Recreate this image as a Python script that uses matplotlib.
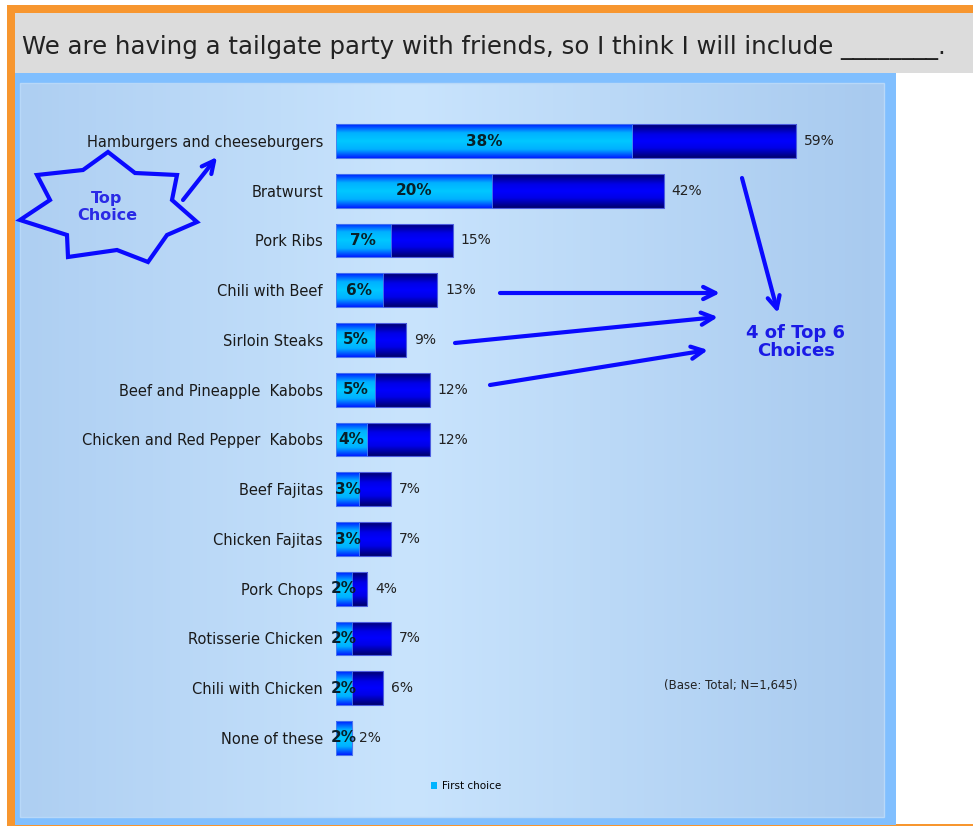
import matplotlib
matplotlib.use("Agg")
import matplotlib.pyplot as plt
import numpy as np
from matplotlib.colors import LinearSegmentedColormap
from matplotlib.patches import Rectangle, Polygon, Patch

# ---------------- data ----------------
categories = [
    "Hamburgers and cheeseburgers", "Bratwurst", "Pork Ribs", "Chili with Beef",
    "Sirloin Steaks", "Beef and Pineapple  Kabobs", "Chicken and Red Pepper  Kabobs",
    "Beef Fajitas", "Chicken Fajitas", "Pork Chops", "Rotisserie Chicken",
    "Chili with Chicken", "None of these",
]
first_choice = [38, 20, 7, 6, 5, 5, 4, 3, 3, 2, 2, 2, 2]
total_choice = [59, 42, 15, 13, 9, 12, 12, 7, 7, 4, 7, 6, 2]
title_text = "We are having a tailgate party with friends, so I think I will include ________."
legend_label = "First choice"
base_note = "(Base: Total; N=1,645)"

W, H = 973, 826
fig = plt.figure(figsize=(W / 100, H / 100), dpi=100)
fig.patch.set_facecolor("white")

# ---------------- background (pixel coordinates) ----------------
bg = fig.add_axes([0, 0, 1, 1])
bg.set_xlim(0, W)
bg.set_ylim(H, 0)
bg.axis("off")
bg.set_zorder(0)

def prect(ax, x0, y0, x1, y1, color, z=1):
    ax.add_patch(Rectangle((x0, y0), x1 - x0, y1 - y0, facecolor=color,
                           edgecolor="none", zorder=z))

prect(bg, 7, 5, W, H, "#f7962f", 1)
prect(bg, 15, 13, W, 73, "#dcdcdc", 2)
prect(bg, 896, 73, W, 824, "white", 2)
prect(bg, 15, 73, 896, 825, "#80bfff", 2)

panel_cmap = LinearSegmentedColormap.from_list(
    "panel", [(0, "#aecff2"), (0.45, "#c9e4fd"), (1, "#a8caef")])
grad = np.linspace(0, 1, 256).reshape(1, -1)
bg.imshow(grad, extent=[20, 884, 817, 83], aspect="auto", cmap=panel_cmap,
          zorder=3, interpolation="bilinear")
bg.add_patch(Rectangle((20, 83), 864, 734, facecolor="none",
                       edgecolor="#b8d8f8", lw=1, zorder=4))
bg.text(22, 47, title_text, fontsize=17.6, color="#222222", va="center",
        ha="left", zorder=5)
bg.set_xlim(0, W)
bg.set_ylim(H, 0)

# ---------------- main bar axes ----------------
px_per_pct = 7.8
x_left_px, x_right_px = 336, 884
top_px, bot_px = 83, 817
first_center_px, step_px = 141, 49.75

ax = fig.add_axes([x_left_px / W, 1 - bot_px / H,
                   (x_right_px - x_left_px) / W, (bot_px - top_px) / H])
ax.set_zorder(1)
ax.patch.set_alpha(0)
y = np.arange(len(categories))

dark_cmap = LinearSegmentedColormap.from_list(
    "dark", [(0, "#000070"), (0.3, "#0000e8"), (0.5, "#0000ff"),
             (0.7, "#0000e8"), (1, "#000070")])
light_cmap = LinearSegmentedColormap.from_list(
    "light", [(0, "#0020ff"), (0.25, "#00b0ff"), (0.5, "#00c8ff"),
              (0.75, "#00b0ff"), (1, "#0020ff")])
vgrad = np.linspace(0, 1, 64).reshape(-1, 1)

bh = 0.68
dark = ax.barh(y, total_choice, height=bh, facecolor="none",
               edgecolor="#4c5ce0", lw=0.8, zorder=2.1)
light = ax.barh(y, first_choice, height=bh, facecolor="none",
                edgecolor="#4c7cf0", lw=0.6, zorder=2.3)

for bars, cmap, z in ((dark, dark_cmap, 2.0), (light, light_cmap, 2.2)):
    for p in bars:
        x0, y0 = p.get_x(), p.get_y()
        w, h = p.get_width(), p.get_height()
        if w <= 0:
            continue
        im = ax.imshow(vgrad, extent=[x0, x0 + w, y0 + h, y0], aspect="auto",
                       cmap=cmap, zorder=z, interpolation="bilinear")
        im.set_clip_path(p)

for i, (f, t) in enumerate(zip(first_choice, total_choice)):
    ax.text(f / 2, i, f"{f}%", ha="center", va="center", fontsize=11,
            fontweight="bold", color="#08202a", zorder=4)
    ax.text(t + 1.0, i, f"{t}%", ha="left", va="center", fontsize=10,
            color="#222222", zorder=4)

ax.set_yticks(y)
ax.set_yticklabels(categories, fontsize=10.5, color="#1a1a1a")
ax.tick_params(axis="y", length=0, pad=9.4)
ax.set_xticks([])
for s in ax.spines.values():
    s.set_visible(False)
ax.set_xlim(0, (x_right_px - x_left_px) / px_per_pct)
ax.set_ylim((bot_px - first_center_px) / step_px, (top_px - first_center_px) / step_px)

leg = ax.legend([Patch(facecolor="#00b4ff", edgecolor="none")], [legend_label],
                loc="center", bbox_to_anchor=(466 / W, 1 - 786 / H),
                bbox_transform=fig.transFigure, frameon=False, fontsize=7.5,
                handlelength=0.6, handleheight=0.6, handletextpad=0.4)

# ---------------- overlay annotations (pixel coordinates) ----------------
ov = fig.add_axes([0, 0, 1, 1])
ov.set_zorder(3)
ov.patch.set_alpha(0)
ov.set_xlim(0, W)
ov.set_ylim(H, 0)
ov.axis("off")

star = [(108, 152), (135, 173), (177, 175), (172, 200), (197, 222), (167, 235),
        (148, 262), (117, 250), (68, 257), (67, 235), (20, 220), (50, 200),
        (37, 175), (83, 170)]
ov.add_patch(Polygon(star, closed=True, facecolor="none", edgecolor="#0a0aff",
                     lw=3, joinstyle="miter"))
ov.text(107, 207, "Top\nChoice", ha="center", va="center", fontsize=11.5,
        fontweight="bold", color="#2a2ae6", linespacing=1.1)

arrow_kw = dict(arrowstyle="->", lw=3, color="#0a0aff", mutation_scale=22,
                shrinkA=0, shrinkB=0)
for (x0, y0), (x1, y1) in [((183, 200), (217, 157)),
                           ((742, 178), (778, 313)),
                           ((500, 293), (720, 293)),
                           ((455, 343), (718, 317)),
                           ((490, 385), (708, 350))]:
    ov.annotate("", xy=(x1, y1), xytext=(x0, y0), arrowprops=arrow_kw)

ov.text(796, 342, "4 of Top 6\nChoices", ha="center", va="center", fontsize=13,
        fontweight="bold", color="#1a1ae6", linespacing=1.05)
ov.text(731, 686, base_note, ha="center", va="center", fontsize=8.5,
        color="#222222")

fig.savefig("out.png", dpi=100)
